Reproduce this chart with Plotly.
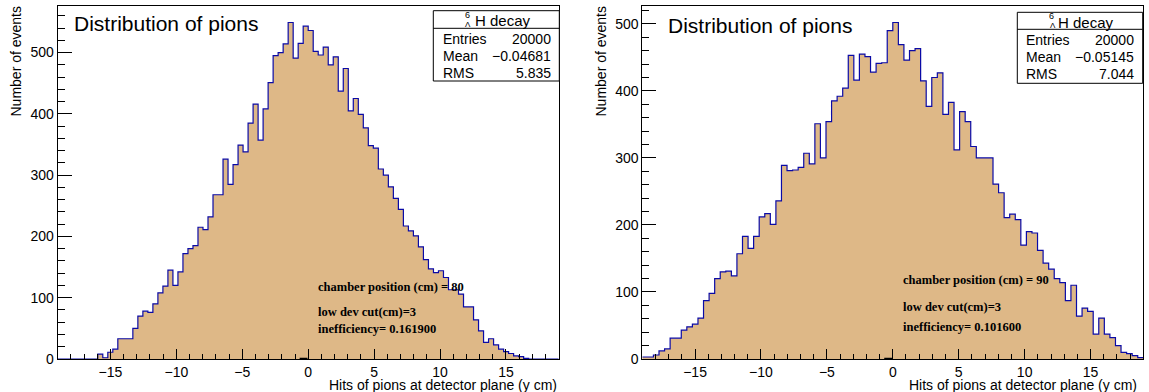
import numpy as np
import plotly.graph_objects as go

W, H = 1149, 392

# ---------------- data ----------------
x_range = [-19.0, 19.0]

# left histogram (chamber at 80 cm), 100 bins over [-19, 19]
left_counts = [
    0, 0, 0, 0, 0, 0, 0, 0, 8, 2,
    11, 16, 33, 33, 33, 50, 70, 78, 76, 90,
    108, 119, 145, 120, 142, 172, 180, 185, 215, 211,
    232, 268, 268, 326, 285, 317, 349, 338, 385, 416,
    357, 408, 451, 495, 500, 514, 549, 491, 515, 543,
    536, 502, 496, 509, 480, 493, 437, 474, 405, 425,
    399, 377, 348, 344, 310, 300, 281, 262, 244, 217,
    209, 201, 183, 162, 147, 141, 144, 133, 113, 113,
    106, 85, 85, 64, 46, 27, 33, 23, 16, 12,
    9, 5, 4, 1, 0, 0, 0, 0, 0, 0,
]

# right histogram (chamber at 90 cm), 90 bins over [-19, 19]
right_counts = [
    3, 3, 6, 12, 15, 31, 31, 43, 48, 52,
    61, 87, 98, 120, 130, 131, 124, 157, 183, 165,
    183, 212, 217, 201, 236, 289, 281, 282, 286, 307,
    291, 351, 300, 354, 385, 392, 404, 453, 416, 455,
    451, 428, 441, 442, 490, 502, 469, 446, 460, 463,
    415, 377, 420, 427, 365, 383, 312, 369, 354, 317,
    300, 300, 300, 261, 248, 211, 216, 208, 170, 190,
    188, 162, 143, 134, 120, 114, 87, 110, 64, 76,
    71, 37, 61, 37, 32, 20, 10, 8, 5, 2,
]

left_stats = {"Entries": "20000", "Mean": "\u22120.04681", "RMS": "5.835"}
right_stats = {"Entries": "20000", "Mean": "\u22120.05145", "RMS": "7.044"}
left_notes = ["chamber position (cm) = 80", "low dev cut(cm)=3", "inefficiency= 0.161900"]
right_notes = ["chamber position (cm) = 90", "low dev cut(cm)=3", "inefficiency= 0.101600"]
plot_title = "Distribution of pions"
x_title = "Hits of pions at detector plane (y cm)"
y_title = "Number of events"

# ---------------- style ----------------
FILL = "#DEB887"
LINE = "#0A0AA6"
SANS = "Liberation Sans, Arial, sans-serif"
SERIF = "Liberation Serif, Times New Roman, serif"


def px_x(p):
    return p / W


def px_y(p):
    return 1 - p / H


def step_xy(counts):
    n = len(counts)
    edges = np.linspace(x_range[0], x_range[1], n + 1)
    ys = list(counts) + [counts[-1]]
    return edges, ys


fig = go.Figure()

for counts, xa, ya in [(left_counts, "x", "y"), (right_counts, "x2", "y2")]:
    ex, ey = step_xy(counts)
    fig.add_trace(go.Scatter(
        x=ex, y=ey, mode="lines", line_shape="hv",
        line=dict(color=LINE, width=1.2),
        fill="tozeroy", fillcolor=FILL,
        xaxis=xa, yaxis=ya, showlegend=False, hoverinfo="skip",
    ))

# panel geometry (pixels)
panels = [
    dict(x0=57.7, x1=558.7, ymax=max(left_counts) * 1.05),
    dict(x0=642.3, x1=1143.3, ymax=max(right_counts) * 1.05),
]
y_top, y_bot = 5.7, 359.0

axis_common = dict(
    showline=True, linecolor="black", linewidth=1, mirror=True,
    showgrid=False, zeroline=False, ticks="inside", tickcolor="black",
    tickwidth=1, tickfont=dict(family=SANS, size=14, color="black"),
    automargin=False,
)

layout_axes = {}
for i, p in enumerate(panels):
    sfx = "" if i == 0 else "2"
    layout_axes["xaxis" + sfx] = dict(
        axis_common,
        domain=[px_x(p["x0"]), px_x(p["x1"])],
        range=x_range, tick0=0, dtick=5, ticklen=10.5,
        minor=dict(dtick=1, ticklen=5.5, ticks="inside", tickcolor="black", tickwidth=1),
        anchor="y" + sfx,
    )
    layout_axes["yaxis" + sfx] = dict(
        axis_common,
        domain=[px_y(y_bot), px_y(y_top)],
        range=[0, p["ymax"]], tick0=0, dtick=100, ticklen=14,
        minor=dict(dtick=20, ticklen=7, ticks="inside", tickcolor="black", tickwidth=1),
        anchor="x" + sfx,
    )

annotations = []
shapes = []


def ann(text, x, y, size, family=SANS, xanchor="left", yanchor="middle", angle=0, bold=False):
    if bold:
        text = "<b>" + text + "</b>"
    annotations.append(dict(
        text=text, x=px_x(x), y=px_y(y), xref="paper", yref="paper",
        xanchor=xanchor, yanchor=yanchor, showarrow=False, textangle=angle,
        font=dict(family=family, size=size, color="black"),
    ))


# per-panel texts
geo = [
    dict(title_x=72.0, title_y=24.0, ylab_x=16.0, xlab_right=558.5,
         box=(433.3, 10.7, 559.3, 81.0), sep=28.3,
         sup=(467.7, 15.3), sub=(468.2, 24.5), htxt=(472.5, 20.5),
         rows_y=(38.8, 56.3, 73.0), lab_x=440.7, val_x=552.7,
         note_x=316.0, notes_y=(287.3, 311.7, 329.3),
         stats=left_stats, notes=left_notes, xa="x", ya="y"),
    dict(title_x=665.5, title_y=25.5, ylab_x=601.0, xlab_right=1138.5,
         box=(1017.3, 12.3, 1142.7, 83.3), sep=29.3,
         sup=(1051.8, 16.0), sub=(1052.8, 25.3), htxt=(1055.5, 22.0),
         rows_y=(40.3, 57.5, 74.2), lab_x=1024.0, val_x=1136.0,
         note_x=900.7, notes_y=(280.0, 307.0, 326.5),
         stats=right_stats, notes=right_notes, xa="x2", ya="y2"),
]

for g in geo:
    ann(plot_title, g["title_x"], g["title_y"], 21)
    ann(y_title, g["ylab_x"], 61.5, 14, xanchor="center", angle=-90)
    ann(x_title, g["xlab_right"], 385.0, 14, xanchor="right")
    bx0, by0, bx1, by1 = g["box"]
    shapes.append(dict(type="rect", xref="paper", yref="paper",
                       x0=px_x(bx0), x1=px_x(bx1), y0=px_y(by1), y1=px_y(by0),
                       line=dict(color="black", width=1), fillcolor="white", layer="above"))
    shapes.append(dict(type="line", xref="paper", yref="paper",
                       x0=px_x(bx0), x1=px_x(bx1), y0=px_y(g["sep"]), y1=px_y(g["sep"]),
                       line=dict(color="black", width=1), layer="above"))
    ann("6", g["sup"][0], g["sup"][1], 9, xanchor="center")
    ann("\u039b", g["sub"][0], g["sub"][1], 8, xanchor="center")
    ann("H decay", g["htxt"][0], g["htxt"][1], 15)
    for (k, v), yy in zip(g["stats"].items(), g["rows_y"]):
        ann(k, g["lab_x"], yy, 14)
        ann(v, g["val_x"], yy, 14, xanchor="right")
    for t, yy in zip(g["notes"], g["notes_y"]):
        ann(t, g["note_x"], yy, 12.5, family=SERIF, bold=True)
    # small dark marker at the origin on the axis
    shapes.append(dict(type="line", xref=g["xa"], yref=g["ya"],
                       x0=-0.65, x1=-0.05, y0=0, y1=0,
                       line=dict(color="black", width=2.5), layer="above"))

fig.update_layout(
    width=W, height=H, autosize=False,
    margin=dict(l=0, r=0, t=0, b=0),
    paper_bgcolor="white", plot_bgcolor="white",
    annotations=annotations, shapes=shapes,
    showlegend=False,
    **layout_axes,
)

fig.write_html(
    "out.html",
    config={"displayModeBar": False, "staticPlot": True},
    post_script="document.body.style.margin='0px';document.body.style.padding='0px';",
)
